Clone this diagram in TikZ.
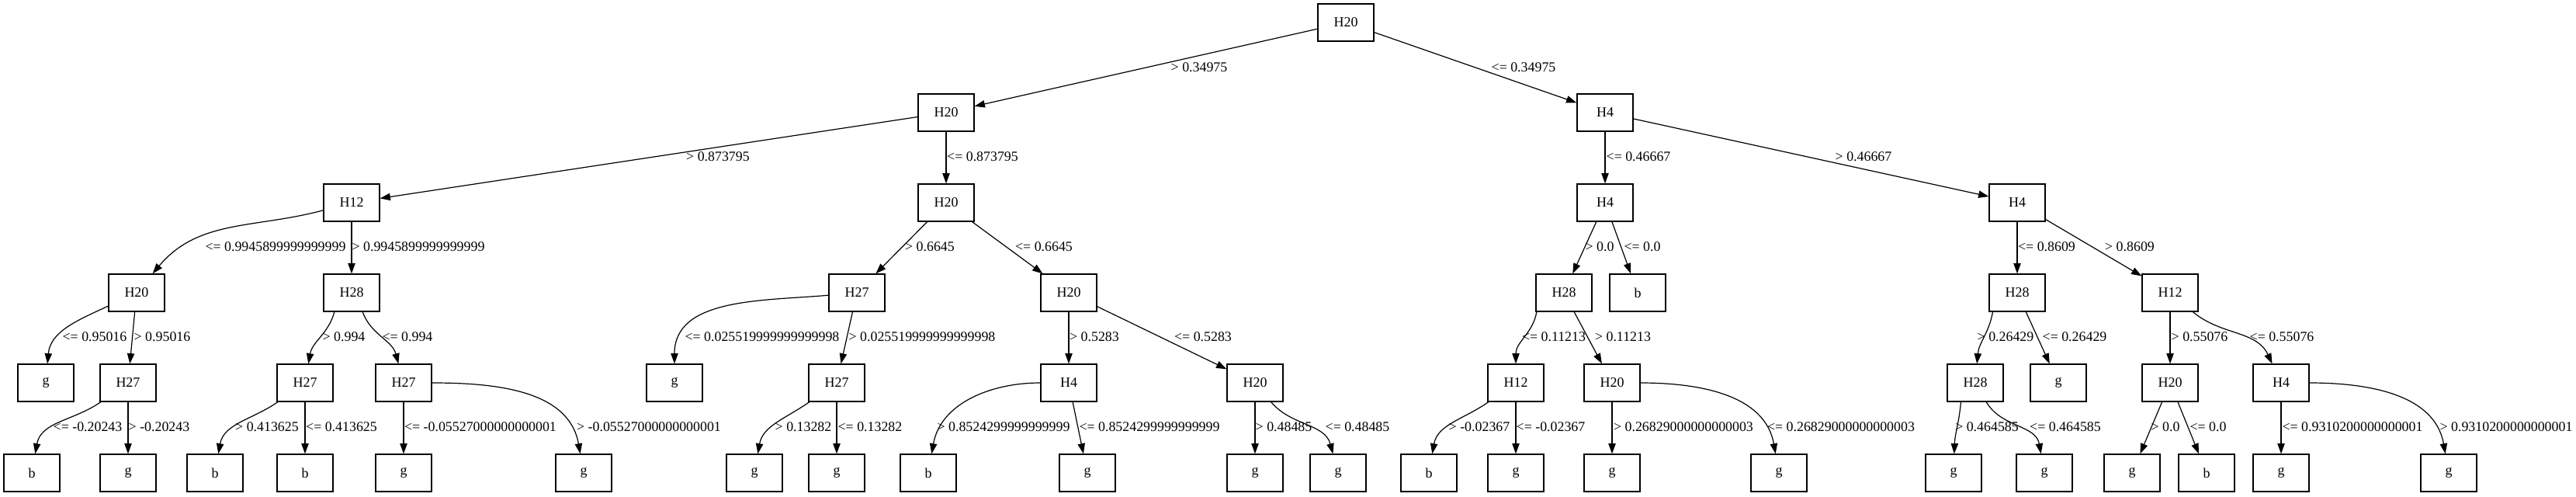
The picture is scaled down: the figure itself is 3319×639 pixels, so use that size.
\documentclass[tikz,border=0pt]{standalone}
\usepackage{fontspec}
\setmainfont{Liberation Serif}
\usepackage{tikz}
\usetikzlibrary{arrows.meta}

\begin{document}
\begin{tikzpicture}[x=0.75pt, y=0.75pt,
    split/.style={draw, line width=0.9pt, minimum width=54pt,
        minimum height=36pt, inner sep=0pt, font=\fontsize{13.5}{16}\selectfont},
    lbl/.style={inner sep=0pt, font=\fontsize{13.4}{16}\selectfont},
    flow/.style={-{Triangle[length=10pt, width=7pt]}, line width=0.9pt}
]
\useasboundingbox (0,0) rectangle (3319,-639);
\node[split] (t) at (1734,-29) {H20};
\node[split] (tL) at (1219,-145) {H20};
\node[split] (tR) at (2068,-145) {H4};
\node[split] (tLL) at (453,-261) {H12};
\node[split] (tLR) at (1219,-261) {H20};
\node[split] (tRL) at (2068,-261) {H4};
\node[split] (tRR) at (2599,-261) {H4};
\node[split] (tLLL) at (176,-377) {H20};
\node[split] (tLLR) at (453,-377) {H28};
\node[split] (tLRL) at (1104,-377) {H27};
\node[split] (tLRR) at (1377,-377) {H20};
\node[split] (tRLL) at (2015,-377) {H28};
\node[split] (tRLR) at (2110,-377) {b};
\node[split] (tRRL) at (2599,-377) {H28};
\node[split] (tRRR) at (2796,-377) {H12};
\node[split] (tLLLL) at (59,-493) {g};
\node[split] (tLLLR) at (165,-493) {H27};
\node[split] (tLLRL) at (393,-493) {H27};
\node[split] (tLLRR) at (520,-493) {H27};
\node[split] (tLRLL) at (869,-493) {g};
\node[split] (tLRLR) at (1078,-493) {H27};
\node[split] (tLRRL) at (1377,-493) {H4};
\node[split] (tLRRR) at (1617,-493) {H20};
\node[split] (tRLLL) at (1953,-493) {H12};
\node[split] (tRLLR) at (2077,-493) {H20};
\node[split] (tRRLL) at (2545,-493) {H28};
\node[split] (tRRLR) at (2652,-493) {g};
\node[split] (tRRRL) at (2796,-493) {H20};
\node[split] (tRRRR) at (2939,-493) {H4};
\node[split] (tLLLRL) at (41,-609) {b};
\node[split] (tLLLRR) at (165,-609) {g};
\node[split] (tLLRLL) at (277,-609) {b};
\node[split] (tLLRLR) at (393,-609) {b};
\node[split] (tLLRRL) at (520,-609) {g};
\node[split] (tLLRRR) at (752,-609) {g};
\node[split] (tLRLRL) at (972,-609) {g};
\node[split] (tLRLRR) at (1078,-609) {g};
\node[split] (tLRRLL) at (1196,-609) {b};
\node[split] (tLRRLR) at (1401,-609) {g};
\node[split] (tLRRRL) at (1617,-609) {g};
\node[split] (tLRRRR) at (1724,-609) {g};
\node[split] (tRLLLL) at (1841,-609) {b};
\node[split] (tRLLLR) at (1953,-609) {g};
\node[split] (tRLLRL) at (2077,-609) {g};
\node[split] (tRLLRR) at (2292,-609) {g};
\node[split] (tRRLLL) at (2517,-609) {g};
\node[split] (tRRLLR) at (2634,-609) {g};
\node[split] (tRRRLL) at (2747,-609) {g};
\node[split] (tRRRLR) at (2843,-609) {b};
\node[split] (tRRRRL) at (2939,-609) {g};
\node[split] (tRRRRR) at (3155,-609) {g};
\draw[flow] (t) -- (tL) node[lbl] (e1) at (1545,-87) {> 0.34975};
\draw[flow] (t) -- (tR) node[lbl] (e2) at (1963,-87) {<= 0.34975};
\draw[flow] (tL) -- (tLL) node[lbl] (e3) at (925,-202) {> 0.873795};
\draw[flow] (tL) -- (tLR) node[lbl] (e4) at (1266,-202) {<= 0.873795};
\draw[flow] (tR) -- (tRL) node[lbl] (e5) at (2111,-202) {<= 0.46667};
\draw[flow] (tR) -- (tRR) node[lbl] (e6) at (2401,-202) {> 0.46667};
\draw[flow] (tLL) to[out=195, in=50] (tLLL) node[lbl] (e7) at (355,-318) {<= 0.9945899999999999};
\draw[flow] (tLL) -- (tLLR) node[lbl] (e8) at (539,-318) {> 0.9945899999999999};
\draw[flow] (tLR) -- (tLRL) node[lbl] (e9) at (1198,-318) {> 0.6645};
\draw[flow] (tLR) -- (tLRR) node[lbl] (e10) at (1345,-318) {<= 0.6645};
\draw[flow] (tRL) -- (tRLL) node[lbl] (e11) at (2061,-318) {> 0.0};
\draw[flow] (tRL) -- (tRLR) node[lbl] (e12) at (2116,-318) {<= 0.0};
\draw[flow] (tRR) -- (tRRL) node[lbl] (e13) at (2637,-318) {<= 0.8609};
\draw[flow] (tRR) -- (tRRR) node[lbl] (e14) at (2744,-318) {> 0.8609};
\draw[flow] (tLLL) to[out=205, in=85] (tLLLL) node[lbl] (e15) at (122,-434) {<= 0.95016};
\draw[flow] (tLLL) -- (tLLLR) node[lbl] (e16) at (209,-434) {> 0.95016};
\draw[flow] (tLLR.228) to[out=-105, in=80] (tLLRL) node[lbl] (e17) at (443,-434) {> 0.994};
\draw[flow] (tLLR.300) to[out=-70, in=105] (tLLRR) node[lbl] (e18) at (525,-434) {<= 0.994};
\draw[flow] (tLRL) to[out=185, in=90] (tLRLL) node[lbl] (e19) at (982,-434) {<= 0.025519999999999998};
\draw[flow] (tLRL) -- (tLRLR) node[lbl] (e20) at (1188,-434) {> 0.025519999999999998};
\draw[flow] (tLRR) -- (tLRRL) node[lbl] (e21) at (1410,-434) {> 0.5283};
\draw[flow] (tLRR) -- (tLRRR) node[lbl] (e22) at (1550,-434) {<= 0.5283};
\draw[flow] (tRLL.215) to[out=-100, in=90] (tRLLL) node[lbl] (e23) at (2002,-434) {<= 0.11213};
\draw[flow] (tRLL) -- (tRLLR) node[lbl] (e24) at (2091,-434) {> 0.11213};
\draw[flow] (tRRL.218) to[out=-100, in=85] (tRRLL) node[lbl] (e25) at (2584,-434) {> 0.26429};
\draw[flow] (tRRL) -- (tRRLR) node[lbl] (e26) at (2673,-434) {<= 0.26429};
\draw[flow] (tRRR) -- (tRRRL) node[lbl] (e27) at (2834,-434) {> 0.55076};
\draw[flow] (tRRR) to[out=-40, in=115] (tRRRR) node[lbl] (e28) at (2940,-434) {<= 0.55076};
\draw[flow] (tLLLR) to[out=215, in=80] (tLLLRL) node[lbl] (e29) at (113,-550) {<= -0.20243};
\draw[flow] (tLLLR) -- (tLLLRR) node[lbl] (e30) at (205,-550) {> -0.20243};
\draw[flow] (tLLRL) to[out=215, in=80] (tLLRLL) node[lbl] (e31) at (344,-550) {> 0.413625};
\draw[flow] (tLLRL) -- (tLLRLR) node[lbl] (e32) at (440,-550) {<= 0.413625};
\draw[flow] (tLLRR) -- (tLLRRL) node[lbl] (e33) at (619,-550) {<= -0.05527000000000001};
\draw[flow] (tLLRR) to[out=0, in=100] (tLLRRR) node[lbl] (e34) at (836,-550) {> -0.05527000000000001};
\draw[flow] (tLRLR) to[out=215, in=80] (tLRLRL) node[lbl] (e35) at (1035,-550) {> 0.13282};
\draw[flow] (tLRLR) -- (tLRLRR) node[lbl] (e36) at (1121,-550) {<= 0.13282};
\draw[flow] (tLRRL) to[out=180, in=80] (tLRRLL) node[lbl] (e37) at (1293,-550) {> 0.8524299999999999};
\draw[flow] (tLRRL) -- (tLRRLR) node[lbl] (e38) at (1481,-550) {<= 0.8524299999999999};
\draw[flow] (tLRRR) -- (tLRRRL) node[lbl] (e39) at (1654,-550) {> 0.48485};
\draw[flow] (tLRRR) to[out=-50, in=105] (tLRRRR) node[lbl] (e40) at (1749,-550) {<= 0.48485};
\draw[flow] (tRLLL) to[out=215, in=80] (tRLLLL) node[lbl] (e41) at (1906,-550) {> -0.02367};
\draw[flow] (tRLLL) -- (tRLLLR) node[lbl] (e42) at (1998,-550) {<= -0.02367};
\draw[flow] (tRLLR) -- (tRLLRL) node[lbl] (e43) at (2169,-550) {> 0.26829000000000003};
\draw[flow] (tRLLR) to[out=0, in=100] (tRLLRR) node[lbl] (e44) at (2372,-550) {<= 0.26829000000000003};
\draw[flow] (tRRLL.233) to[out=-95, in=88] (tRRLLL) node[lbl] (e45) at (2560,-550) {> 0.464585};
\draw[flow] (tRRLL) to[out=-60, in=100] (tRRLLR) node[lbl] (e46) at (2661,-550) {<= 0.464585};
\draw[flow] (tRRRL) -- (tRRRLL) node[lbl] (e47) at (2790,-550) {> 0.0};
\draw[flow] (tRRRL) -- (tRRRLR) node[lbl] (e48) at (2845,-550) {<= 0.0};
\draw[flow] (tRRRR) -- (tRRRRL) node[lbl] (e49) at (3031,-550) {<= 0.9310200000000001};
\draw[flow] (tRRRR) to[out=0, in=100] (tRRRRR) node[lbl] (e50) at (3229,-550) {> 0.9310200000000001};
\end{tikzpicture}
\end{document}
